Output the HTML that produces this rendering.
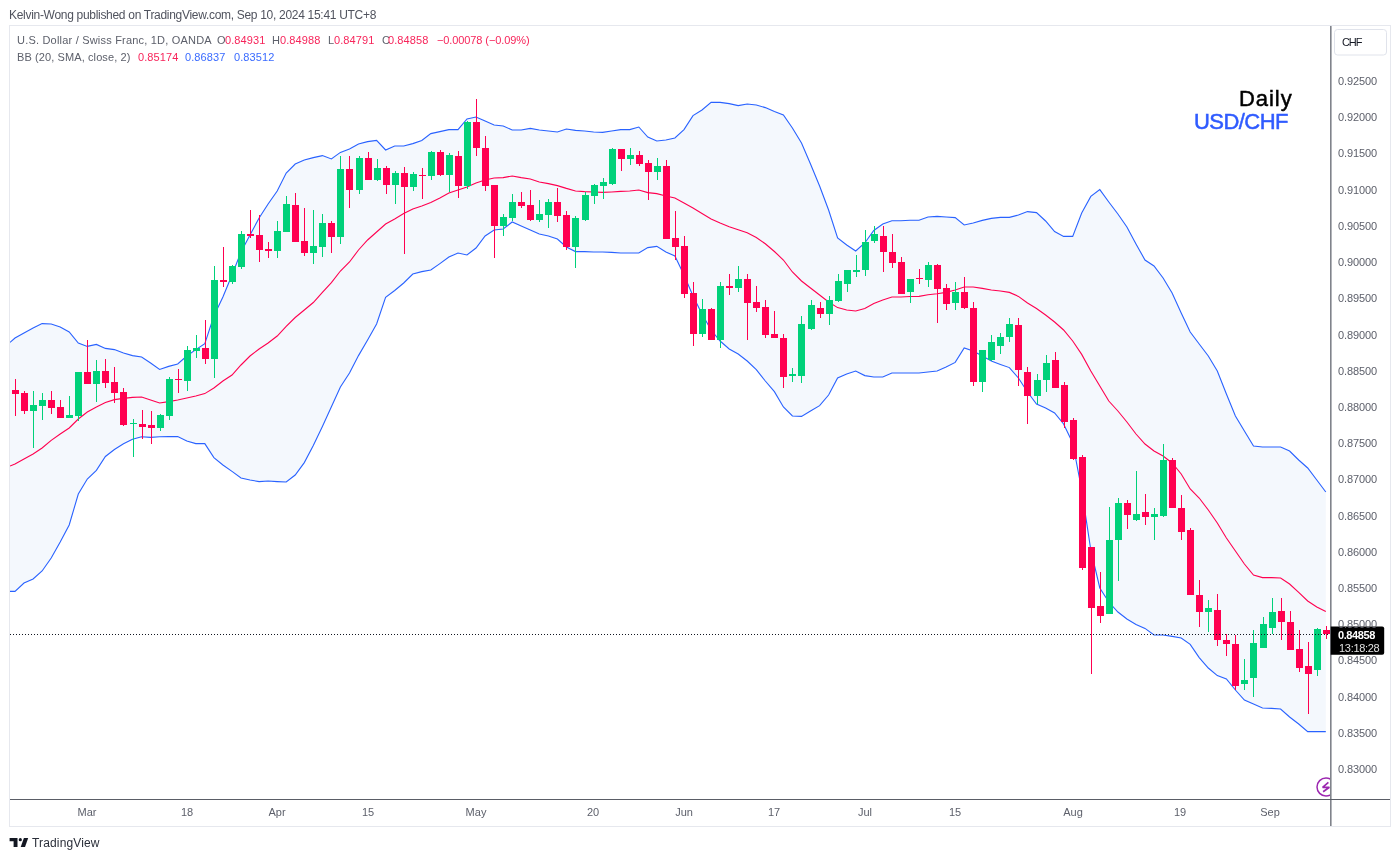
<!DOCTYPE html>
<html><head><meta charset="utf-8">
<style>
html,body{margin:0;padding:0;background:#fff;}
body{width:1400px;height:860px;position:relative;overflow:hidden;font-family:"Liberation Sans",sans-serif;color:#131722;}
.abs{position:absolute;white-space:nowrap;line-height:normal;will-change:transform;}
.l11{font-size:11px;color:#5d606b;}
.r{color:#f7245a;} .b{color:#3a6bff;}
.pl{font-size:11px;color:#5d606b;left:1338px;letter-spacing:-0.1px;}
.tl{font-size:11px;color:#5d606b;top:805.6px;}
</style></head><body>
<div class="abs" style="left:8.7px;top:7.6px;font-size:12px;color:#50535e;letter-spacing:-0.3px;">Kelvin-Wong published on TradingView.com, Sep 10, 2024 15:41 UTC+8</div>
<svg class="abs" style="left:0;top:0" width="1400" height="860" viewBox="0 0 1400 860">
<rect x="9.5" y="25.5" width="1381" height="801" fill="none" stroke="#e6e8ee" stroke-width="1"/>
<defs><clipPath id="cp"><rect x="10" y="26" width="1320" height="773"/></clipPath></defs>
<g clip-path="url(#cp)">
<path d="M10.0,342.4 L15.0,338.0 L24.0,333.0 L33.1,328.0 L42.1,323.6 L51.2,324.0 L60.2,327.0 L69.2,332.0 L78.3,343.0 L87.3,346.4 L96.4,344.4 L105.4,348.4 L114.4,349.6 L123.5,353.0 L132.5,355.6 L141.6,357.0 L150.6,363.0 L159.6,369.4 L168.7,366.4 L177.7,364.0 L186.8,356.0 L195.8,349.6 L204.8,343.6 L213.9,316.0 L222.9,297.0 L232.0,275.0 L241.0,252.0 L250.0,235.0 L259.1,218.0 L268.1,204.0 L277.2,191.0 L286.2,173.0 L295.2,164.0 L304.3,160.0 L313.3,157.6 L322.4,155.6 L331.4,159.0 L340.4,152.4 L349.5,149.0 L358.5,144.0 L367.6,141.6 L376.6,140.4 L385.6,150.0 L394.7,146.0 L403.7,146.0 L412.8,143.6 L421.8,140.4 L430.8,133.6 L439.9,131.6 L448.9,129.6 L458.0,129.6 L467.0,119.0 L476.0,117.0 L485.1,121.0 L494.1,125.0 L503.2,126.0 L512.2,130.0 L521.2,130.0 L530.3,128.4 L539.3,130.0 L548.4,131.0 L557.4,132.0 L566.4,129.0 L575.5,130.4 L584.5,131.0 L593.6,132.0 L602.6,132.4 L611.6,131.0 L620.7,129.6 L629.7,129.6 L638.8,127.0 L647.8,137.0 L656.8,141.0 L665.9,140.0 L674.9,138.0 L684.0,129.6 L693.0,115.6 L702.0,110.0 L711.1,102.4 L720.1,102.4 L729.2,103.6 L738.2,105.6 L747.2,104.0 L756.3,105.0 L765.3,107.6 L774.4,111.6 L783.4,115.0 L792.4,128.0 L801.5,143.0 L810.5,164.0 L819.6,186.0 L828.6,210.0 L837.6,238.0 L846.7,245.0 L855.7,251.0 L864.8,243.0 L873.8,230.5 L882.8,224.0 L891.9,220.8 L900.9,220.8 L910.0,220.2 L919.0,220.2 L928.0,217.0 L937.1,216.4 L946.1,217.0 L955.2,217.6 L964.2,225.0 L973.2,223.0 L982.3,220.4 L991.3,218.4 L1000.4,217.4 L1009.4,217.4 L1018.4,215.0 L1027.5,211.6 L1036.5,212.6 L1045.6,221.0 L1054.6,231.6 L1063.6,236.4 L1072.7,236.4 L1081.7,213.0 L1090.8,196.4 L1099.8,189.6 L1108.8,202.0 L1117.9,214.0 L1126.9,227.0 L1136.0,244.0 L1145.0,260.0 L1154.0,266.0 L1163.1,278.0 L1172.1,293.0 L1181.2,313.0 L1190.2,332.0 L1199.2,344.0 L1208.3,356.0 L1217.3,371.0 L1226.4,394.0 L1235.4,416.0 L1244.4,431.0 L1253.5,446.0 L1262.5,447.0 L1271.6,447.0 L1280.6,447.0 L1289.6,451.0 L1298.7,460.0 L1307.7,468.0 L1316.8,480.0 L1325.8,492.0 L1325.8,731.6 L1316.8,731.6 L1307.7,731.6 L1298.7,724.0 L1289.6,717.0 L1280.6,709.0 L1271.6,708.4 L1262.5,708.0 L1253.5,704.0 L1244.4,700.0 L1235.4,690.0 L1226.4,679.0 L1217.3,675.6 L1208.3,668.0 L1199.2,657.6 L1190.2,644.4 L1181.2,638.0 L1172.1,636.4 L1163.1,635.0 L1154.0,635.0 L1145.0,628.4 L1136.0,624.4 L1126.9,619.0 L1117.9,612.0 L1108.8,602.0 L1099.8,588.0 L1090.8,550.0 L1081.7,490.0 L1072.7,443.0 L1063.6,424.0 L1054.6,413.0 L1045.6,408.0 L1036.5,404.0 L1027.5,392.0 L1018.4,378.0 L1009.4,367.6 L1000.4,364.4 L991.3,361.0 L982.3,356.0 L973.2,351.0 L964.2,348.0 L955.2,362.4 L946.1,367.0 L937.1,371.0 L928.0,372.0 L919.0,373.0 L910.0,373.0 L900.9,373.0 L891.9,373.0 L882.8,377.0 L873.8,377.0 L864.8,375.6 L855.7,371.0 L846.7,374.0 L837.6,378.0 L828.6,395.0 L819.6,405.6 L810.5,411.0 L801.5,416.4 L792.4,416.0 L783.4,407.0 L774.4,391.6 L765.3,381.0 L756.3,369.6 L747.2,361.0 L738.2,354.0 L729.2,349.0 L720.1,341.0 L711.1,330.0 L702.0,314.0 L693.0,296.0 L684.0,275.0 L674.9,256.0 L665.9,252.0 L656.8,246.4 L647.8,247.6 L638.8,253.0 L629.7,253.0 L620.7,253.0 L611.6,252.4 L602.6,252.0 L593.6,252.0 L584.5,251.6 L575.5,251.6 L566.4,247.0 L557.4,239.0 L548.4,236.0 L539.3,234.0 L530.3,230.0 L521.2,226.0 L512.2,222.0 L503.2,229.0 L494.1,230.0 L485.1,236.0 L476.0,248.0 L467.0,255.0 L458.0,253.0 L448.9,257.0 L439.9,263.6 L430.8,270.0 L421.8,271.6 L412.8,274.0 L403.7,283.0 L394.7,290.5 L385.6,297.4 L376.6,324.0 L367.6,340.0 L358.5,355.6 L349.5,373.0 L340.4,387.0 L331.4,406.7 L322.4,426.5 L313.3,445.6 L304.3,462.6 L295.2,475.0 L286.2,482.0 L277.2,481.6 L268.1,481.0 L259.1,481.6 L250.0,480.0 L241.0,478.0 L232.0,471.4 L222.9,465.0 L213.9,457.6 L204.8,443.6 L195.8,443.6 L186.8,441.0 L177.7,436.6 L168.7,436.6 L159.6,436.8 L150.6,437.4 L141.6,436.8 L132.5,439.3 L123.5,443.8 L114.4,449.5 L105.4,456.5 L96.4,470.4 L87.3,479.0 L78.3,494.0 L69.2,525.0 L60.2,542.0 L51.2,558.0 L42.1,571.0 L33.1,579.0 L24.0,583.0 L15.0,591.4 L10.0,591.4 Z" fill="#f4f8fd" stroke="none"/>
<path d="M10.0,342.4 L15.0,338.0 L24.0,333.0 L33.1,328.0 L42.1,323.6 L51.2,324.0 L60.2,327.0 L69.2,332.0 L78.3,343.0 L87.3,346.4 L96.4,344.4 L105.4,348.4 L114.4,349.6 L123.5,353.0 L132.5,355.6 L141.6,357.0 L150.6,363.0 L159.6,369.4 L168.7,366.4 L177.7,364.0 L186.8,356.0 L195.8,349.6 L204.8,343.6 L213.9,316.0 L222.9,297.0 L232.0,275.0 L241.0,252.0 L250.0,235.0 L259.1,218.0 L268.1,204.0 L277.2,191.0 L286.2,173.0 L295.2,164.0 L304.3,160.0 L313.3,157.6 L322.4,155.6 L331.4,159.0 L340.4,152.4 L349.5,149.0 L358.5,144.0 L367.6,141.6 L376.6,140.4 L385.6,150.0 L394.7,146.0 L403.7,146.0 L412.8,143.6 L421.8,140.4 L430.8,133.6 L439.9,131.6 L448.9,129.6 L458.0,129.6 L467.0,119.0 L476.0,117.0 L485.1,121.0 L494.1,125.0 L503.2,126.0 L512.2,130.0 L521.2,130.0 L530.3,128.4 L539.3,130.0 L548.4,131.0 L557.4,132.0 L566.4,129.0 L575.5,130.4 L584.5,131.0 L593.6,132.0 L602.6,132.4 L611.6,131.0 L620.7,129.6 L629.7,129.6 L638.8,127.0 L647.8,137.0 L656.8,141.0 L665.9,140.0 L674.9,138.0 L684.0,129.6 L693.0,115.6 L702.0,110.0 L711.1,102.4 L720.1,102.4 L729.2,103.6 L738.2,105.6 L747.2,104.0 L756.3,105.0 L765.3,107.6 L774.4,111.6 L783.4,115.0 L792.4,128.0 L801.5,143.0 L810.5,164.0 L819.6,186.0 L828.6,210.0 L837.6,238.0 L846.7,245.0 L855.7,251.0 L864.8,243.0 L873.8,230.5 L882.8,224.0 L891.9,220.8 L900.9,220.8 L910.0,220.2 L919.0,220.2 L928.0,217.0 L937.1,216.4 L946.1,217.0 L955.2,217.6 L964.2,225.0 L973.2,223.0 L982.3,220.4 L991.3,218.4 L1000.4,217.4 L1009.4,217.4 L1018.4,215.0 L1027.5,211.6 L1036.5,212.6 L1045.6,221.0 L1054.6,231.6 L1063.6,236.4 L1072.7,236.4 L1081.7,213.0 L1090.8,196.4 L1099.8,189.6 L1108.8,202.0 L1117.9,214.0 L1126.9,227.0 L1136.0,244.0 L1145.0,260.0 L1154.0,266.0 L1163.1,278.0 L1172.1,293.0 L1181.2,313.0 L1190.2,332.0 L1199.2,344.0 L1208.3,356.0 L1217.3,371.0 L1226.4,394.0 L1235.4,416.0 L1244.4,431.0 L1253.5,446.0 L1262.5,447.0 L1271.6,447.0 L1280.6,447.0 L1289.6,451.0 L1298.7,460.0 L1307.7,468.0 L1316.8,480.0 L1325.8,492.0" fill="none" stroke="#2962ff" stroke-width="1.1"/>
<path d="M10.0,591.4 L15.0,591.4 L24.0,583.0 L33.1,579.0 L42.1,571.0 L51.2,558.0 L60.2,542.0 L69.2,525.0 L78.3,494.0 L87.3,479.0 L96.4,470.4 L105.4,456.5 L114.4,449.5 L123.5,443.8 L132.5,439.3 L141.6,436.8 L150.6,437.4 L159.6,436.8 L168.7,436.6 L177.7,436.6 L186.8,441.0 L195.8,443.6 L204.8,443.6 L213.9,457.6 L222.9,465.0 L232.0,471.4 L241.0,478.0 L250.0,480.0 L259.1,481.6 L268.1,481.0 L277.2,481.6 L286.2,482.0 L295.2,475.0 L304.3,462.6 L313.3,445.6 L322.4,426.5 L331.4,406.7 L340.4,387.0 L349.5,373.0 L358.5,355.6 L367.6,340.0 L376.6,324.0 L385.6,297.4 L394.7,290.5 L403.7,283.0 L412.8,274.0 L421.8,271.6 L430.8,270.0 L439.9,263.6 L448.9,257.0 L458.0,253.0 L467.0,255.0 L476.0,248.0 L485.1,236.0 L494.1,230.0 L503.2,229.0 L512.2,222.0 L521.2,226.0 L530.3,230.0 L539.3,234.0 L548.4,236.0 L557.4,239.0 L566.4,247.0 L575.5,251.6 L584.5,251.6 L593.6,252.0 L602.6,252.0 L611.6,252.4 L620.7,253.0 L629.7,253.0 L638.8,253.0 L647.8,247.6 L656.8,246.4 L665.9,252.0 L674.9,256.0 L684.0,275.0 L693.0,296.0 L702.0,314.0 L711.1,330.0 L720.1,341.0 L729.2,349.0 L738.2,354.0 L747.2,361.0 L756.3,369.6 L765.3,381.0 L774.4,391.6 L783.4,407.0 L792.4,416.0 L801.5,416.4 L810.5,411.0 L819.6,405.6 L828.6,395.0 L837.6,378.0 L846.7,374.0 L855.7,371.0 L864.8,375.6 L873.8,377.0 L882.8,377.0 L891.9,373.0 L900.9,373.0 L910.0,373.0 L919.0,373.0 L928.0,372.0 L937.1,371.0 L946.1,367.0 L955.2,362.4 L964.2,348.0 L973.2,351.0 L982.3,356.0 L991.3,361.0 L1000.4,364.4 L1009.4,367.6 L1018.4,378.0 L1027.5,392.0 L1036.5,404.0 L1045.6,408.0 L1054.6,413.0 L1063.6,424.0 L1072.7,443.0 L1081.7,490.0 L1090.8,550.0 L1099.8,588.0 L1108.8,602.0 L1117.9,612.0 L1126.9,619.0 L1136.0,624.4 L1145.0,628.4 L1154.0,635.0 L1163.1,635.0 L1172.1,636.4 L1181.2,638.0 L1190.2,644.4 L1199.2,657.6 L1208.3,668.0 L1217.3,675.6 L1226.4,679.0 L1235.4,690.0 L1244.4,700.0 L1253.5,704.0 L1262.5,708.0 L1271.6,708.4 L1280.6,709.0 L1289.6,717.0 L1298.7,724.0 L1307.7,731.6 L1316.8,731.6 L1325.8,731.6" fill="none" stroke="#2962ff" stroke-width="1.1"/>
<path d="M10.0,466.0 L15.0,464.0 L24.0,459.0 L33.1,454.0 L42.1,448.0 L51.2,440.4 L60.2,434.0 L69.2,428.0 L78.3,419.0 L87.3,412.0 L96.4,407.0 L105.4,402.4 L114.4,399.6 L123.5,398.4 L132.5,397.4 L141.6,397.0 L150.6,400.0 L159.6,403.0 L168.7,401.6 L177.7,400.0 L186.8,398.0 L195.8,396.0 L204.8,393.6 L213.9,388.0 L222.9,381.0 L232.0,375.0 L241.0,365.0 L250.0,356.0 L259.1,349.0 L268.1,343.0 L277.2,336.0 L286.2,326.3 L295.2,317.5 L304.3,310.0 L313.3,302.5 L322.4,292.3 L331.4,282.6 L340.4,271.0 L349.5,262.0 L358.5,250.0 L367.6,240.0 L376.6,232.0 L385.6,224.0 L394.7,219.0 L403.7,213.6 L412.8,209.0 L421.8,206.0 L430.8,202.4 L439.9,198.0 L448.9,193.0 L458.0,190.0 L467.0,187.0 L476.0,183.0 L485.1,180.0 L494.1,178.0 L503.2,177.6 L512.2,176.0 L521.2,177.6 L530.3,179.0 L539.3,182.0 L548.4,183.6 L557.4,185.6 L566.4,188.4 L575.5,191.0 L584.5,191.6 L593.6,192.0 L602.6,192.4 L611.6,192.0 L620.7,191.4 L629.7,191.0 L638.8,190.0 L647.8,192.6 L656.8,193.6 L665.9,196.0 L674.9,198.0 L684.0,203.0 L693.0,208.0 L702.0,213.5 L711.1,219.0 L720.1,223.0 L729.2,226.8 L738.2,229.8 L747.2,232.7 L756.3,237.5 L765.3,243.8 L774.4,251.5 L783.4,260.0 L792.4,272.0 L801.5,281.0 L810.5,288.0 L819.6,295.0 L828.6,302.0 L837.6,307.6 L846.7,310.0 L855.7,311.0 L864.8,308.6 L873.8,303.5 L882.8,300.0 L891.9,297.0 L900.9,297.0 L910.0,296.5 L919.0,296.4 L928.0,294.7 L937.1,293.8 L946.1,292.4 L955.2,290.0 L964.2,287.0 L973.2,287.0 L982.3,288.4 L991.3,290.0 L1000.4,291.0 L1009.4,292.4 L1018.4,296.4 L1027.5,303.0 L1036.5,308.5 L1045.6,315.0 L1054.6,322.0 L1063.6,330.0 L1072.7,341.0 L1081.7,354.4 L1090.8,371.0 L1099.8,386.0 L1108.8,401.0 L1117.9,411.0 L1126.9,422.0 L1136.0,434.0 L1145.0,444.0 L1154.0,451.0 L1163.1,456.0 L1172.1,463.0 L1181.2,474.0 L1190.2,489.0 L1199.2,498.0 L1208.3,510.0 L1217.3,523.0 L1226.4,538.0 L1235.4,551.0 L1244.4,564.0 L1253.5,575.0 L1262.5,577.6 L1271.6,577.6 L1280.6,578.0 L1289.6,584.0 L1298.7,592.4 L1307.7,601.0 L1316.8,607.0 L1325.8,611.5" fill="none" stroke="#ff0050" stroke-width="1.1"/>
<rect x="15" y="379" width="1" height="37" fill="#ff0050"/>
<rect x="12" y="390" width="7" height="4" fill="#ff0050"/>
<rect x="24" y="391" width="1" height="23" fill="#ff0050"/>
<rect x="21" y="393" width="7" height="18" fill="#ff0050"/>
<rect x="33" y="391" width="1" height="57" fill="#00d17a"/>
<rect x="30" y="405" width="7" height="6" fill="#00d17a"/>
<rect x="42" y="393" width="1" height="27" fill="#00d17a"/>
<rect x="39" y="400" width="7" height="6" fill="#00d17a"/>
<rect x="51" y="391" width="1" height="23" fill="#ff0050"/>
<rect x="48" y="400" width="7" height="8" fill="#ff0050"/>
<rect x="60" y="400" width="1" height="18" fill="#ff0050"/>
<rect x="57" y="407" width="7" height="11" fill="#ff0050"/>
<rect x="69" y="396" width="1" height="22" fill="#00d17a"/>
<rect x="66" y="415" width="7" height="3" fill="#00d17a"/>
<rect x="78" y="372" width="1" height="49" fill="#00d17a"/>
<rect x="75" y="372" width="7" height="44" fill="#00d17a"/>
<rect x="87" y="340" width="1" height="44" fill="#ff0050"/>
<rect x="84" y="372" width="7" height="12" fill="#ff0050"/>
<rect x="96" y="360" width="1" height="42" fill="#00d17a"/>
<rect x="93" y="371" width="7" height="13" fill="#00d17a"/>
<rect x="105" y="359" width="1" height="29" fill="#ff0050"/>
<rect x="102" y="371" width="7" height="12" fill="#ff0050"/>
<rect x="114" y="367" width="1" height="36" fill="#ff0050"/>
<rect x="111" y="382" width="7" height="11" fill="#ff0050"/>
<rect x="123" y="388" width="1" height="38" fill="#ff0050"/>
<rect x="120" y="392" width="7" height="33" fill="#ff0050"/>
<rect x="133" y="419" width="1" height="38" fill="#00d17a"/>
<rect x="130" y="423" width="7" height="1" fill="#00d17a"/>
<rect x="142" y="410" width="1" height="29" fill="#ff0050"/>
<rect x="139" y="424" width="7" height="3" fill="#ff0050"/>
<rect x="151" y="411" width="1" height="33" fill="#ff0050"/>
<rect x="148" y="425" width="7" height="3" fill="#ff0050"/>
<rect x="160" y="414" width="1" height="17" fill="#00d17a"/>
<rect x="157" y="415" width="7" height="13" fill="#00d17a"/>
<rect x="169" y="377" width="1" height="43" fill="#00d17a"/>
<rect x="166" y="379" width="7" height="37" fill="#00d17a"/>
<rect x="178" y="369" width="1" height="24" fill="#ff0050"/>
<rect x="175" y="379" width="7" height="1" fill="#ff0050"/>
<rect x="187" y="346" width="1" height="45" fill="#00d17a"/>
<rect x="184" y="350" width="7" height="31" fill="#00d17a"/>
<rect x="196" y="335" width="1" height="23" fill="#00d17a"/>
<rect x="193" y="348" width="7" height="3" fill="#00d17a"/>
<rect x="205" y="320" width="1" height="44" fill="#ff0050"/>
<rect x="202" y="348" width="7" height="11" fill="#ff0050"/>
<rect x="214" y="266" width="1" height="112" fill="#00d17a"/>
<rect x="211" y="280" width="7" height="79" fill="#00d17a"/>
<rect x="223" y="247" width="1" height="40" fill="#ff0050"/>
<rect x="220" y="280" width="7" height="2" fill="#ff0050"/>
<rect x="232" y="265" width="1" height="19" fill="#00d17a"/>
<rect x="229" y="266" width="7" height="16" fill="#00d17a"/>
<rect x="241" y="231" width="1" height="38" fill="#00d17a"/>
<rect x="238" y="234" width="7" height="33" fill="#00d17a"/>
<rect x="250" y="210" width="1" height="28" fill="#ff0050"/>
<rect x="247" y="234" width="7" height="2" fill="#ff0050"/>
<rect x="259" y="215" width="1" height="47" fill="#ff0050"/>
<rect x="256" y="235" width="7" height="15" fill="#ff0050"/>
<rect x="268" y="242" width="1" height="16" fill="#ff0050"/>
<rect x="265" y="249" width="7" height="2" fill="#ff0050"/>
<rect x="277" y="221" width="1" height="37" fill="#00d17a"/>
<rect x="274" y="231" width="7" height="20" fill="#00d17a"/>
<rect x="286" y="196" width="1" height="36" fill="#00d17a"/>
<rect x="283" y="204" width="7" height="28" fill="#00d17a"/>
<rect x="295" y="193" width="1" height="49" fill="#ff0050"/>
<rect x="292" y="205" width="7" height="37" fill="#ff0050"/>
<rect x="304" y="208" width="1" height="48" fill="#ff0050"/>
<rect x="301" y="241" width="7" height="12" fill="#ff0050"/>
<rect x="313" y="210" width="1" height="54" fill="#00d17a"/>
<rect x="310" y="246" width="7" height="7" fill="#00d17a"/>
<rect x="322" y="214" width="1" height="43" fill="#00d17a"/>
<rect x="319" y="223" width="7" height="24" fill="#00d17a"/>
<rect x="331" y="221" width="1" height="32" fill="#ff0050"/>
<rect x="328" y="223" width="7" height="14" fill="#ff0050"/>
<rect x="340" y="156" width="1" height="88" fill="#00d17a"/>
<rect x="337" y="169" width="7" height="68" fill="#00d17a"/>
<rect x="349" y="156" width="1" height="52" fill="#ff0050"/>
<rect x="346" y="169" width="7" height="21" fill="#ff0050"/>
<rect x="359" y="156" width="1" height="38" fill="#00d17a"/>
<rect x="356" y="158" width="7" height="32" fill="#00d17a"/>
<rect x="368" y="152" width="1" height="28" fill="#ff0050"/>
<rect x="365" y="158" width="7" height="22" fill="#ff0050"/>
<rect x="377" y="159" width="1" height="22" fill="#00d17a"/>
<rect x="374" y="168" width="7" height="12" fill="#00d17a"/>
<rect x="386" y="166" width="1" height="28" fill="#ff0050"/>
<rect x="383" y="168" width="7" height="17" fill="#ff0050"/>
<rect x="395" y="171" width="1" height="33" fill="#00d17a"/>
<rect x="392" y="173" width="7" height="12" fill="#00d17a"/>
<rect x="404" y="167" width="1" height="87" fill="#ff0050"/>
<rect x="401" y="173" width="7" height="14" fill="#ff0050"/>
<rect x="413" y="172" width="1" height="19" fill="#00d17a"/>
<rect x="410" y="174" width="7" height="13" fill="#00d17a"/>
<rect x="422" y="168" width="1" height="31" fill="#ff0050"/>
<rect x="419" y="175" width="7" height="1" fill="#ff0050"/>
<rect x="431" y="151" width="1" height="29" fill="#00d17a"/>
<rect x="428" y="152" width="7" height="24" fill="#00d17a"/>
<rect x="440" y="150" width="1" height="26" fill="#ff0050"/>
<rect x="437" y="152" width="7" height="23" fill="#ff0050"/>
<rect x="449" y="153" width="1" height="39" fill="#00d17a"/>
<rect x="446" y="155" width="7" height="20" fill="#00d17a"/>
<rect x="458" y="151" width="1" height="47" fill="#ff0050"/>
<rect x="455" y="156" width="7" height="30" fill="#ff0050"/>
<rect x="467" y="121" width="1" height="68" fill="#00d17a"/>
<rect x="464" y="122" width="7" height="64" fill="#00d17a"/>
<rect x="476" y="99" width="1" height="57" fill="#ff0050"/>
<rect x="473" y="122" width="7" height="26" fill="#ff0050"/>
<rect x="485" y="136" width="1" height="55" fill="#ff0050"/>
<rect x="482" y="148" width="7" height="38" fill="#ff0050"/>
<rect x="494" y="185" width="1" height="73" fill="#ff0050"/>
<rect x="491" y="185" width="7" height="41" fill="#ff0050"/>
<rect x="503" y="214" width="1" height="22" fill="#00d17a"/>
<rect x="500" y="217" width="7" height="9" fill="#00d17a"/>
<rect x="512" y="194" width="1" height="27" fill="#00d17a"/>
<rect x="509" y="202" width="7" height="16" fill="#00d17a"/>
<rect x="521" y="192" width="1" height="16" fill="#ff0050"/>
<rect x="518" y="202" width="7" height="4" fill="#ff0050"/>
<rect x="530" y="190" width="1" height="31" fill="#ff0050"/>
<rect x="527" y="205" width="7" height="15" fill="#ff0050"/>
<rect x="539" y="200" width="1" height="22" fill="#00d17a"/>
<rect x="536" y="214" width="7" height="6" fill="#00d17a"/>
<rect x="548" y="199" width="1" height="29" fill="#00d17a"/>
<rect x="545" y="202" width="7" height="13" fill="#00d17a"/>
<rect x="557" y="188" width="1" height="34" fill="#ff0050"/>
<rect x="554" y="202" width="7" height="14" fill="#ff0050"/>
<rect x="566" y="211" width="1" height="39" fill="#ff0050"/>
<rect x="563" y="215" width="7" height="32" fill="#ff0050"/>
<rect x="575" y="216" width="1" height="52" fill="#00d17a"/>
<rect x="572" y="218" width="7" height="29" fill="#00d17a"/>
<rect x="585" y="192" width="1" height="29" fill="#00d17a"/>
<rect x="582" y="195" width="7" height="25" fill="#00d17a"/>
<rect x="594" y="184" width="1" height="20" fill="#00d17a"/>
<rect x="591" y="185" width="7" height="11" fill="#00d17a"/>
<rect x="603" y="178" width="1" height="21" fill="#00d17a"/>
<rect x="600" y="182" width="7" height="4" fill="#00d17a"/>
<rect x="612" y="148" width="1" height="37" fill="#00d17a"/>
<rect x="609" y="149" width="7" height="35" fill="#00d17a"/>
<rect x="621" y="149" width="1" height="22" fill="#ff0050"/>
<rect x="618" y="149" width="7" height="10" fill="#ff0050"/>
<rect x="630" y="148" width="1" height="17" fill="#00d17a"/>
<rect x="627" y="155" width="7" height="4" fill="#00d17a"/>
<rect x="639" y="151" width="1" height="15" fill="#ff0050"/>
<rect x="636" y="155" width="7" height="9" fill="#ff0050"/>
<rect x="648" y="160" width="1" height="40" fill="#ff0050"/>
<rect x="645" y="163" width="7" height="9" fill="#ff0050"/>
<rect x="657" y="158" width="1" height="22" fill="#00d17a"/>
<rect x="654" y="166" width="7" height="6" fill="#00d17a"/>
<rect x="666" y="160" width="1" height="79" fill="#ff0050"/>
<rect x="663" y="166" width="7" height="73" fill="#ff0050"/>
<rect x="675" y="211" width="1" height="49" fill="#ff0050"/>
<rect x="672" y="238" width="7" height="9" fill="#ff0050"/>
<rect x="684" y="236" width="1" height="62" fill="#ff0050"/>
<rect x="681" y="246" width="7" height="48" fill="#ff0050"/>
<rect x="693" y="282" width="1" height="64" fill="#ff0050"/>
<rect x="690" y="293" width="7" height="41" fill="#ff0050"/>
<rect x="702" y="299" width="1" height="38" fill="#00d17a"/>
<rect x="699" y="309" width="7" height="25" fill="#00d17a"/>
<rect x="711" y="308" width="1" height="32" fill="#ff0050"/>
<rect x="708" y="309" width="7" height="31" fill="#ff0050"/>
<rect x="720" y="282" width="1" height="66" fill="#00d17a"/>
<rect x="717" y="286" width="7" height="54" fill="#00d17a"/>
<rect x="729" y="274" width="1" height="21" fill="#ff0050"/>
<rect x="726" y="286" width="7" height="2" fill="#ff0050"/>
<rect x="738" y="266" width="1" height="26" fill="#00d17a"/>
<rect x="735" y="279" width="7" height="9" fill="#00d17a"/>
<rect x="747" y="274" width="1" height="66" fill="#ff0050"/>
<rect x="744" y="279" width="7" height="24" fill="#ff0050"/>
<rect x="756" y="286" width="1" height="26" fill="#ff0050"/>
<rect x="753" y="302" width="7" height="6" fill="#ff0050"/>
<rect x="765" y="300" width="1" height="38" fill="#ff0050"/>
<rect x="762" y="307" width="7" height="28" fill="#ff0050"/>
<rect x="774" y="311" width="1" height="27" fill="#ff0050"/>
<rect x="771" y="334" width="7" height="4" fill="#ff0050"/>
<rect x="811" y="300" width="1" height="30" fill="#00d17a"/>
<rect x="808" y="305" width="7" height="24" fill="#00d17a"/>
<rect x="820" y="302" width="1" height="16" fill="#ff0050"/>
<rect x="817" y="308" width="7" height="6" fill="#ff0050"/>
<rect x="829" y="296" width="1" height="29" fill="#00d17a"/>
<rect x="826" y="300" width="7" height="14" fill="#00d17a"/>
<rect x="838" y="274" width="1" height="28" fill="#00d17a"/>
<rect x="835" y="281" width="7" height="20" fill="#00d17a"/>
<rect x="847" y="270" width="1" height="22" fill="#00d17a"/>
<rect x="844" y="270" width="7" height="14" fill="#00d17a"/>
<rect x="856" y="255" width="1" height="22" fill="#00d17a"/>
<rect x="853" y="270" width="7" height="2" fill="#00d17a"/>
<rect x="865" y="230" width="1" height="46" fill="#00d17a"/>
<rect x="862" y="242" width="7" height="28" fill="#00d17a"/>
<rect x="874" y="226" width="1" height="17" fill="#00d17a"/>
<rect x="871" y="234" width="7" height="7" fill="#00d17a"/>
<rect x="883" y="226" width="1" height="46" fill="#ff0050"/>
<rect x="880" y="236" width="7" height="16" fill="#ff0050"/>
<rect x="892" y="234" width="1" height="34" fill="#ff0050"/>
<rect x="889" y="252" width="7" height="11" fill="#ff0050"/>
<rect x="901" y="257" width="1" height="37" fill="#ff0050"/>
<rect x="898" y="262" width="7" height="32" fill="#ff0050"/>
<rect x="910" y="279" width="1" height="24" fill="#00d17a"/>
<rect x="907" y="279" width="7" height="13" fill="#00d17a"/>
<rect x="919" y="269" width="1" height="15" fill="#ff0050"/>
<rect x="916" y="278" width="7" height="1" fill="#ff0050"/>
<rect x="928" y="262" width="1" height="25" fill="#00d17a"/>
<rect x="925" y="265" width="7" height="15" fill="#00d17a"/>
<rect x="937" y="264" width="1" height="59" fill="#ff0050"/>
<rect x="934" y="265" width="7" height="24" fill="#ff0050"/>
<rect x="783" y="334" width="1" height="54" fill="#ff0050"/>
<rect x="780" y="338" width="7" height="39" fill="#ff0050"/>
<rect x="792" y="368" width="1" height="14" fill="#00d17a"/>
<rect x="789" y="374" width="7" height="2" fill="#00d17a"/>
<rect x="801" y="316" width="1" height="67" fill="#00d17a"/>
<rect x="798" y="324" width="7" height="52" fill="#00d17a"/>
<rect x="946" y="284" width="1" height="26" fill="#ff0050"/>
<rect x="943" y="288" width="7" height="16" fill="#ff0050"/>
<rect x="955" y="282" width="1" height="28" fill="#00d17a"/>
<rect x="952" y="292" width="7" height="11" fill="#00d17a"/>
<rect x="964" y="277" width="1" height="32" fill="#ff0050"/>
<rect x="961" y="292" width="7" height="16" fill="#ff0050"/>
<rect x="1009" y="318" width="1" height="24" fill="#00d17a"/>
<rect x="1006" y="324" width="7" height="13" fill="#00d17a"/>
<rect x="973" y="302" width="1" height="84" fill="#ff0050"/>
<rect x="970" y="308" width="7" height="74" fill="#ff0050"/>
<rect x="982" y="350" width="1" height="42" fill="#00d17a"/>
<rect x="979" y="350" width="7" height="32" fill="#00d17a"/>
<rect x="991" y="335" width="1" height="26" fill="#00d17a"/>
<rect x="988" y="342" width="7" height="18" fill="#00d17a"/>
<rect x="1000" y="333" width="1" height="21" fill="#00d17a"/>
<rect x="997" y="337" width="7" height="9" fill="#00d17a"/>
<rect x="1018" y="318" width="1" height="68" fill="#ff0050"/>
<rect x="1015" y="325" width="7" height="45" fill="#ff0050"/>
<rect x="1027" y="367" width="1" height="57" fill="#ff0050"/>
<rect x="1024" y="372" width="7" height="24" fill="#ff0050"/>
<rect x="1037" y="374" width="1" height="30" fill="#00d17a"/>
<rect x="1034" y="380" width="7" height="16" fill="#00d17a"/>
<rect x="1046" y="355" width="1" height="37" fill="#00d17a"/>
<rect x="1043" y="363" width="7" height="17" fill="#00d17a"/>
<rect x="1055" y="352" width="1" height="36" fill="#ff0050"/>
<rect x="1052" y="360" width="7" height="28" fill="#ff0050"/>
<rect x="1064" y="382" width="1" height="46" fill="#ff0050"/>
<rect x="1061" y="385" width="7" height="37" fill="#ff0050"/>
<rect x="1073" y="418" width="1" height="42" fill="#ff0050"/>
<rect x="1070" y="420" width="7" height="39" fill="#ff0050"/>
<rect x="1082" y="455" width="1" height="115" fill="#ff0050"/>
<rect x="1079" y="457" width="7" height="111" fill="#ff0050"/>
<rect x="1118" y="498" width="1" height="83" fill="#00d17a"/>
<rect x="1115" y="503" width="7" height="37" fill="#00d17a"/>
<rect x="1127" y="500" width="1" height="29" fill="#ff0050"/>
<rect x="1124" y="503" width="7" height="12" fill="#ff0050"/>
<rect x="1136" y="471" width="1" height="50" fill="#00d17a"/>
<rect x="1133" y="514" width="7" height="6" fill="#00d17a"/>
<rect x="1145" y="494" width="1" height="31" fill="#ff0050"/>
<rect x="1142" y="512" width="7" height="5" fill="#ff0050"/>
<rect x="1154" y="508" width="1" height="32" fill="#00d17a"/>
<rect x="1151" y="514" width="7" height="3" fill="#00d17a"/>
<rect x="1163" y="444" width="1" height="73" fill="#00d17a"/>
<rect x="1160" y="460" width="7" height="56" fill="#00d17a"/>
<rect x="1172" y="458" width="1" height="50" fill="#ff0050"/>
<rect x="1169" y="460" width="7" height="48" fill="#ff0050"/>
<rect x="1181" y="495" width="1" height="45" fill="#ff0050"/>
<rect x="1178" y="508" width="7" height="24" fill="#ff0050"/>
<rect x="1091" y="547" width="1" height="127" fill="#ff0050"/>
<rect x="1088" y="547" width="7" height="61" fill="#ff0050"/>
<rect x="1100" y="572" width="1" height="51" fill="#ff0050"/>
<rect x="1097" y="606" width="7" height="10" fill="#ff0050"/>
<rect x="1109" y="507" width="1" height="107" fill="#00d17a"/>
<rect x="1106" y="540" width="7" height="74" fill="#00d17a"/>
<rect x="1190" y="528" width="1" height="67" fill="#ff0050"/>
<rect x="1187" y="530" width="7" height="65" fill="#ff0050"/>
<rect x="1199" y="580" width="1" height="47" fill="#ff0050"/>
<rect x="1196" y="595" width="7" height="17" fill="#ff0050"/>
<rect x="1208" y="600" width="1" height="32" fill="#00d17a"/>
<rect x="1205" y="608" width="7" height="4" fill="#00d17a"/>
<rect x="1217" y="594" width="1" height="52" fill="#ff0050"/>
<rect x="1214" y="610" width="7" height="30" fill="#ff0050"/>
<rect x="1226" y="634" width="1" height="22" fill="#ff0050"/>
<rect x="1223" y="640" width="7" height="4" fill="#ff0050"/>
<rect x="1235" y="635" width="1" height="55" fill="#ff0050"/>
<rect x="1232" y="644" width="7" height="42" fill="#ff0050"/>
<rect x="1244" y="659" width="1" height="31" fill="#00d17a"/>
<rect x="1241" y="680" width="7" height="4" fill="#00d17a"/>
<rect x="1253" y="630" width="1" height="67" fill="#00d17a"/>
<rect x="1250" y="643" width="7" height="35" fill="#00d17a"/>
<rect x="1263" y="617" width="1" height="31" fill="#00d17a"/>
<rect x="1260" y="624" width="7" height="24" fill="#00d17a"/>
<rect x="1272" y="598" width="1" height="36" fill="#00d17a"/>
<rect x="1269" y="612" width="7" height="16" fill="#00d17a"/>
<rect x="1281" y="598" width="1" height="42" fill="#ff0050"/>
<rect x="1278" y="611" width="7" height="11" fill="#ff0050"/>
<rect x="1290" y="611" width="1" height="39" fill="#ff0050"/>
<rect x="1287" y="622" width="7" height="28" fill="#ff0050"/>
<rect x="1299" y="630" width="1" height="42" fill="#ff0050"/>
<rect x="1296" y="649" width="7" height="19" fill="#ff0050"/>
<rect x="1308" y="642" width="1" height="72" fill="#ff0050"/>
<rect x="1305" y="666" width="7" height="8" fill="#ff0050"/>
<rect x="1317" y="628" width="1" height="48" fill="#00d17a"/>
<rect x="1314" y="629" width="7" height="41" fill="#00d17a"/>
<rect x="1326" y="626" width="1" height="13" fill="#ff0050"/>
<rect x="1323" y="630" width="7" height="4" fill="#ff0050"/>
<line x1="10" y1="634.5" x2="1330" y2="634.5" stroke="#131722" stroke-width="1" stroke-dasharray="1,2"/>
<circle cx="1326" cy="787" r="9" fill="none" stroke="#9c27b0" stroke-width="1.5"/>
<path d="M1328.4,782.4 L1322.6,787.3 L1329.4,787.3 L1323.1,791.8" fill="none" stroke="#9c27b0" stroke-width="1.7" stroke-linejoin="bevel"/>
</g>
<rect x="1330" y="26" width="1.6" height="800" fill="#80838b"/>
<rect x="10" y="799" width="1380" height="1" fill="#5a5d66"/>
<rect x="1334.5" y="29.5" width="52" height="25.5" rx="3" fill="#fff" stroke="#e0e3eb" stroke-width="1"/>
<path d="M1330.7,626.6 H1382.2 Q1384.2,626.6 1384.2,628.6 V652.8 Q1384.2,654.8 1382.2,654.8 H1330.7 Z" fill="#000"/>
<g fill="#131722">
<path d="M9.6,838 H17.5 V847 H13.6 V841.2 H9.6 Z"/>
<circle cx="20.3" cy="839.7" r="1.6"/>
<path d="M23.9,838 H28.2 L25,847 H20.7 Z"/>
</g>
</svg>
<div class="abs pl" style="top:75.05px">0.92500</div>
<div class="abs pl" style="top:111.27px">0.92000</div>
<div class="abs pl" style="top:147.48px">0.91500</div>
<div class="abs pl" style="top:183.70px">0.91000</div>
<div class="abs pl" style="top:219.91px">0.90500</div>
<div class="abs pl" style="top:256.13px">0.90000</div>
<div class="abs pl" style="top:292.34px">0.89500</div>
<div class="abs pl" style="top:328.56px">0.89000</div>
<div class="abs pl" style="top:364.77px">0.88500</div>
<div class="abs pl" style="top:400.99px">0.88000</div>
<div class="abs pl" style="top:437.20px">0.87500</div>
<div class="abs pl" style="top:473.42px">0.87000</div>
<div class="abs pl" style="top:509.63px">0.86500</div>
<div class="abs pl" style="top:545.85px">0.86000</div>
<div class="abs pl" style="top:582.06px">0.85500</div>
<div class="abs pl" style="top:618.28px">0.85000</div>
<div class="abs pl" style="top:654.49px">0.84500</div>
<div class="abs pl" style="top:690.71px">0.84000</div>
<div class="abs pl" style="top:726.92px">0.83500</div>
<div class="abs pl" style="top:763.14px">0.83000</div>
<div class="abs tl" style="left:87px;transform:translateX(-50%)">Mar</div>
<div class="abs tl" style="left:187px;transform:translateX(-50%)">18</div>
<div class="abs tl" style="left:277px;transform:translateX(-50%)">Apr</div>
<div class="abs tl" style="left:368px;transform:translateX(-50%)">15</div>
<div class="abs tl" style="left:476px;transform:translateX(-50%)">May</div>
<div class="abs tl" style="left:593px;transform:translateX(-50%)">20</div>
<div class="abs tl" style="left:684px;transform:translateX(-50%)">Jun</div>
<div class="abs tl" style="left:774px;transform:translateX(-50%)">17</div>
<div class="abs tl" style="left:865px;transform:translateX(-50%)">Jul</div>
<div class="abs tl" style="left:955px;transform:translateX(-50%)">15</div>
<div class="abs tl" style="left:1073px;transform:translateX(-50%)">Aug</div>
<div class="abs tl" style="left:1180px;transform:translateX(-50%)">19</div>
<div class="abs tl" style="left:1270px;transform:translateX(-50%)">Sep</div>

<div class="abs l11" style="left:16.8px;top:34.2px;letter-spacing:0.2px">U.S. Dollar / Swiss Franc, 1D, OANDA</div>
<div class="abs l11" style="left:216.8px;top:34.2px;">O</div>
<div class="abs l11 r" style="left:224.5px;top:34.2px;letter-spacing:0.1px">0.84931</div>
<div class="abs l11" style="left:272.3px;top:34.2px;">H</div>
<div class="abs l11 r" style="left:280px;top:34.2px;letter-spacing:0.1px">0.84988</div>
<div class="abs l11" style="left:327.8px;top:34.2px;">L</div>
<div class="abs l11 r" style="left:333.5px;top:34.2px;letter-spacing:0.1px">0.84791</div>
<div class="abs l11" style="left:381.8px;top:34.2px;">C</div>
<div class="abs l11 r" style="left:388.3px;top:34.2px;letter-spacing:0.1px">0.84858</div>
<div class="abs l11 r" style="left:436.5px;top:34.2px;letter-spacing:-0.1px">−0.00078 (−0.09%)</div>
<div class="abs l11" style="left:17.3px;top:50.5px;letter-spacing:0.1px">BB (20, SMA, close, 2)</div>
<div class="abs l11 r" style="left:137.6px;top:50.5px;letter-spacing:0.1px">0.85174</div>
<div class="abs l11 b" style="left:185.3px;top:50.5px;letter-spacing:0.1px">0.86837</div>
<div class="abs l11 b" style="left:233.5px;top:50.5px;letter-spacing:0.1px">0.83512</div>
<div class="abs" style="left:1239px;top:85.8px;font-size:22px;color:#000;letter-spacing:0.95px;-webkit-text-stroke:0.5px #000;">Daily</div>
<div class="abs" style="left:1194px;top:109.1px;font-size:22px;color:#2f5bff;letter-spacing:-0.55px;-webkit-text-stroke:0.5px #2f5bff;">USD/CHF</div>
<div class="abs" style="left:1342px;top:36.3px;font-size:11px;color:#131722;letter-spacing:-1.1px;">CHF</div>
<div class="abs" style="left:1338.4px;top:628.8px;font-size:11px;font-weight:bold;color:#fff;letter-spacing:-0.4px;">0.84858</div>
<div class="abs" style="left:1339px;top:641.6px;font-size:11px;color:#e0e0e0;letter-spacing:-0.3px;">13:18:28</div>
<div class="abs" style="left:31.5px;top:836.2px;font-size:12px;color:#2a2e39;letter-spacing:0.15px;">TradingView</div>
</body></html>
